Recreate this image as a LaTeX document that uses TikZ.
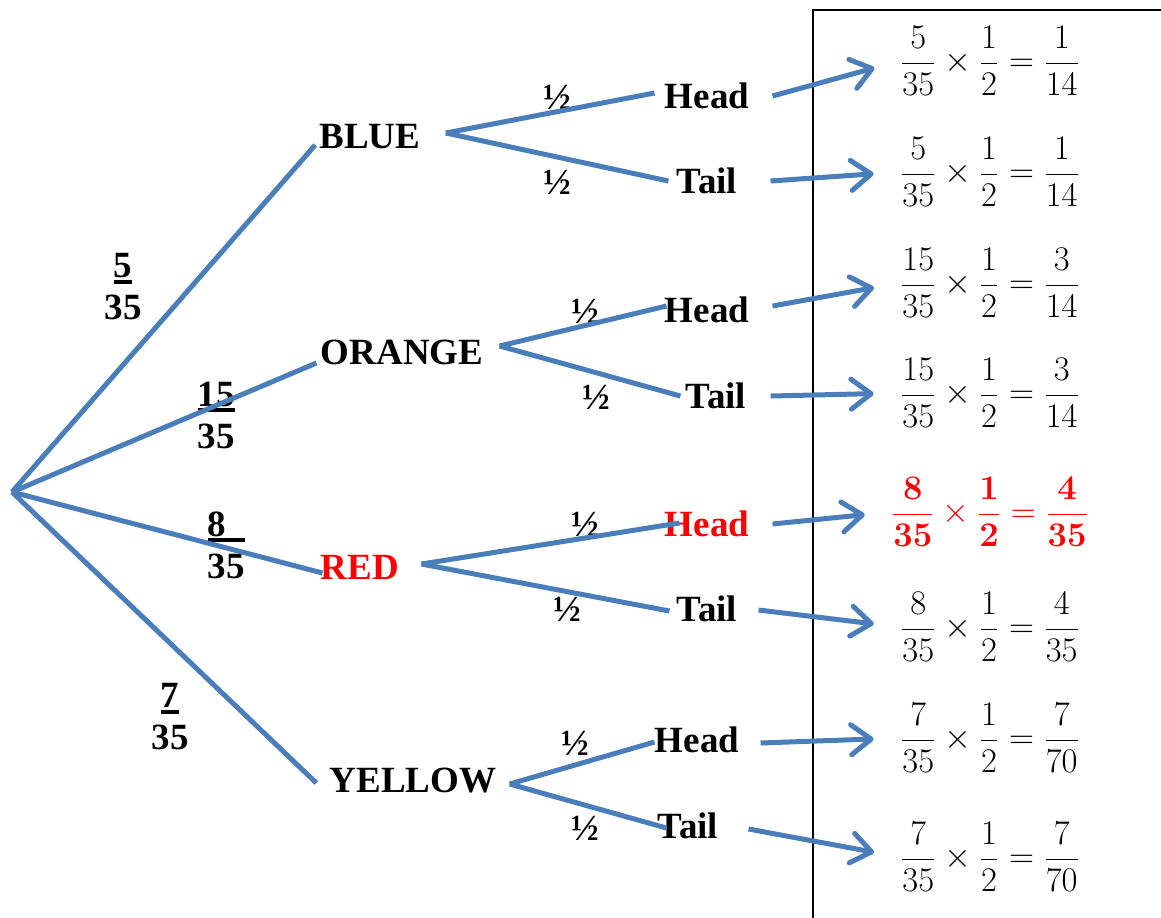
\documentclass[tikz,border=0pt]{standalone}
\usepackage{amsmath}
\usepackage[no-math]{fontspec}
\setmainfont{Liberation Serif}
\usepackage{xcolor}
\usetikzlibrary{arrows.meta,calc}

\definecolor{branchblue}{RGB}{74,126,187}
\definecolor{pickred}{RGB}{255,0,0}
\newsavebox\numbox
\newcommand{\unum}[1]{\sbox\numbox{#1}\rlap{\rule[-3pt]{\wd\numbox}{2pt}}\usebox\numbox}

\begin{document}
\begin{tikzpicture}[
    x=0.5pt, y=-0.5pt,
    every node/.style={font=\fontsize{18.5}{21}\selectfont\bfseries, inner sep=0pt},
    branch/.style={draw=branchblue, line width=2.5pt},
    result/.style={draw=branchblue, line width=2.5pt, -{Straight Barb[length=10pt, width=15pt, round]}, shorten >=13pt},
    prob/.style={align=center},
    calcline/.style={font=\fontsize{16}{19}\selectfont, inner sep=0pt}
]
\useasboundingbox (0,0) rectangle (1161,917);

% frame round the products
\draw[line width=0.7pt] (1170,10) -- (813,10) -- (813,930);

\coordinate (root) at (12,492);

\node (blue) at (370,137) {BLUE};
\node (orange) at (402,352) {ORANGE};
\node[text=pickred] (red) at (360,567) {RED};
\node (yellow) at (413,781) {YELLOW};

\node[prob] (pblue) at (123,287) {\unum{5}\\35};
\node[prob] (porange) at (216,415) {\unum{15}\\35};
\node[prob] (pred) at (226,545) {\unum{8\hphantom{8}}\\35};
\node[prob] (pyellow) at (170,717) {\unum{7}\\35};

\node (bh) at (707,96) {Head};
\node (bt) at (707,181) {Tail};
\node (oh) at (707,310) {Head};
\node (ot) at (716,396) {Tail};
\node[text=pickred] (rh) at (707,524) {Head};
\node (rt) at (707,609) {Tail};
\node (yh) at (697,740) {Head};
\node (yt) at (688,826) {Tail};

\node (halfbh) at (557,97) {½};
\node (halfbt) at (557,182) {½};
\node (halfoh) at (585,311) {½};
\node (halfot) at (596,397) {½};
\node (halfrh) at (585,524) {½};
\node (halfrt) at (567,609) {½};
\node (halfyh) at (575,743) {½};
\node (halfyt) at (585,828) {½};

\node[calcline] (fbh) at (990,61) {$\dfrac{5}{35}\times\dfrac{1}{2}=\dfrac{1}{14}$};
\node[calcline] (fbt) at (990,172) {$\dfrac{5}{35}\times\dfrac{1}{2}=\dfrac{1}{14}$};
\node[calcline] (foh) at (990,283) {$\dfrac{15}{35}\times\dfrac{1}{2}=\dfrac{3}{14}$};
\node[calcline] (fot) at (990,393) {$\dfrac{15}{35}\times\dfrac{1}{2}=\dfrac{3}{14}$};
\node[calcline, text=pickred] (frh) at (990,512) {$\dfrac{\mathbf{8}}{\mathbf{35}}\times\dfrac{\mathbf{1}}{\mathbf{2}}=\dfrac{\mathbf{4}}{\mathbf{35}}$};
\node[calcline] (frt) at (990,627) {$\dfrac{8}{35}\times\dfrac{1}{2}=\dfrac{4}{35}$};
\node[calcline] (fyh) at (990,738) {$\dfrac{7}{35}\times\dfrac{1}{2}=\dfrac{7}{70}$};
\node[calcline] (fyt) at (990,857) {$\dfrac{7}{35}\times\dfrac{1}{2}=\dfrac{7}{70}$};

\draw[branch] (root) -- ($(blue.west)+(-4,8)$);
\draw[branch] (root) -- ($(orange.west)+(-4,11)$);
\draw[branch] (root) -- ($(red.west)+(2,6)$);
\draw[branch] (root) -- ($(yellow.west)+(-13,2)$);

\draw[branch] ($(blue.east)+(25,-4)$) -- ($(bh.west)+(-10,-3)$);
\draw[branch] ($(blue.east)+(25,-4)$) -- ($(bt.west)+(-8,0)$);
\draw[branch] ($(orange.east)+(16,-6)$) -- ($(oh.west)+(2,-4)$);
\draw[branch] ($(orange.east)+(16,-6)$) -- ($(ot.west)+(-5,0)$);
\draw[branch] ($(red.east)+(22,-3)$) -- ($(rh.west)+(15,-1)$);
\draw[branch] ($(red.east)+(22,-3)$) -- ($(rt.west)+(-7,2)$);
\draw[branch] ($(yellow.east)+(13,3)$) -- ($(yh.west)+(0,2)$);
\draw[branch] ($(yellow.east)+(13,3)$) -- ($(yt.west)+(9,2)$);

\draw[result] ($(bh.east)+(23,0)$) -- (fbh.west);
\draw[result] ($(bt.east)+(33,0)$) -- (fbt.west);
\draw[result] ($(oh.east)+(23,-4)$) -- (foh.west);
\draw[result] ($(ot.east)+(24,0)$) -- (fot.west);
\draw[result] ($(rh.east)+(23,0)$) -- (frh.west);
\draw[result] ($(rt.east)+(21,1)$) -- (frt.west);
\draw[result] ($(yh.east)+(21,3)$) -- (fyh.west);
\draw[result] ($(yt.east)+(30,3)$) -- (fyt.west);

\end{tikzpicture}
\end{document}
